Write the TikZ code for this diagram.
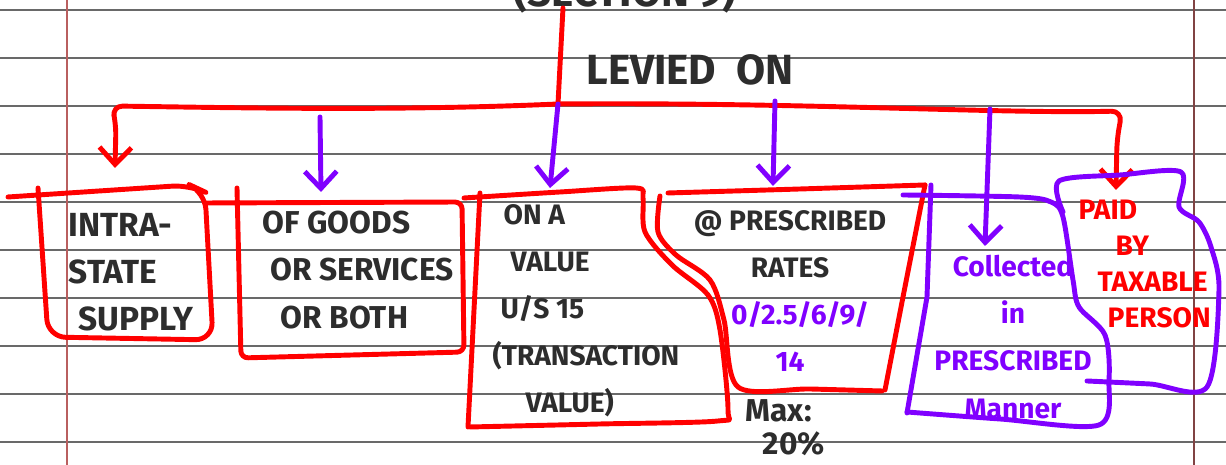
\documentclass[tikz,border=0pt]{standalone}
\usepackage{fontspec}
\usepackage{xcolor}
\usetikzlibrary{arrows.meta}
\newfontfamily\handfont{Fira Sans}
\definecolor{cRule}{RGB}{105,105,105}
\definecolor{cMargin}{RGB}{185,95,95}
\definecolor{cInk}{RGB}{45,45,45}
\definecolor{cRed}{RGB}{255,0,0}
\definecolor{cViolet}{RGB}{128,0,255}
\tikzset{
	rule/.style={draw=cRule, line width=0.55pt},
	margin/.style={draw=cMargin, line width=0.4pt},
	pen/.style={line width=1.4pt, line cap=round, line join=round},
	redpen/.style={pen, draw=cRed},
	violetpen/.style={pen, draw=cViolet},
	tipped/.style={-{Straight Barb[length=1.7mm, width=3.2mm]}},
	% handwritten text
	hand/.style={font=\handfont\bfseries\fontsize{8}{13.4}\selectfont, text=cInk, align=center, inner sep=0pt},
	bighand/.style={hand, font=\handfont\bfseries\fontsize{9}{13.4}\selectfont},
	headhand/.style={hand, font=\handfont\bfseries\fontsize{12}{14}\selectfont},
	smallhand/.style={hand, font=\handfont\bfseries\fontsize{8}{10.2}\selectfont},
}

\begin{document}
\begin{tikzpicture}[x=0.01cm, y=-0.01cm]
	\clip (0,0) rectangle (1226,465);
	\fill[white] (0,0) rectangle (1226,465);

	% ruled paper
	\foreach \y in {10,58,...,442}
		\draw[rule] (0,\y) -- (1226,\y);
	\draw[margin] (67,0) -- (67,465);
	\draw[margin, draw=cMargin!70!black] (1194,0) -- (1194,465);

	% headings
	\node[headhand] (section) at (625,-8) {(SECTION 9)};
	\node[headhand] (levied) at (690,70) {LEVIED\ \ ON};

	% branch points
	\coordinate (stem) at (563,8);
	\coordinate (hub) at (558,104);
	\coordinate (barW) at (112,106);
	\coordinate (barE) at (1122,111);
	\coordinate (dropB) at (320,117);
	\coordinate (dropD) at (775,101);
	\coordinate (dropE) at (990,109);
	\coordinate (tipA) at (115,168);
	\coordinate (tipB) at (321,192);
	\coordinate (tipC) at (550,188);
	\coordinate (tipD) at (773,186);
	\coordinate (tipE) at (985,246);
	\coordinate (tipF) at (1116,190);

	\draw[redpen] (stem) -- (hub);
	\draw[redpen, tipped, rounded corners=3pt] (hub) .. controls (400,111) and (250,108) .. (barW) -- (116,125) -- (tipA);
	\draw[redpen, tipped, rounded corners=3pt] (hub) .. controls (800,102) and (1000,114) .. (barE) -- (1117,140) -- (tipF);
	\draw[violetpen, tipped] (dropB) -- (tipB);
	\draw[violetpen, tipped] (hub) -- (tipC);
	\draw[violetpen, tipped] (dropD) -- (tipD);
	\draw[violetpen, tipped] (dropE) -- (tipE);

	% boxes
	\draw[redpen, rounded corners=5pt] (8,197) -- (190,185) -- (205,192) -- (213,340) -- (48,337) -- (38,188);
	\draw[redpen, rounded corners=2pt] (237,188) -- (241,358) -- (464,352) -- (462,202) -- (207,203);
	\draw[redpen] (480,193) -- (468,427);
	\draw[redpen] plot[smooth, tension=0.5] coordinates {(464,198) (560,192) (636,188) (643,198) (645,232) (672,265) (708,295) (720,330) (728,410) (718,421) (600,424) (470,427)};
	\draw[redpen] plot[smooth, tension=0.5] coordinates {(668,193) (800,189) (925,185)};
	\draw[redpen] plot[smooth, tension=0.5] coordinates {(660,196) (658,232) (676,255) (710,280) (724,320) (738,387) (810,389) (882,391)};
	\draw[redpen] (925,185) -- (903,297) -- (885,390);
	\draw[violetpen] plot[smooth, tension=0.5] coordinates {(903,195) (1019,197) (1051,202) (1063,217) (1073,280) (1079,307) (1105,335) (1109,380) (1099,425) (1000,419) (907,412)};
	\draw[violetpen] (931,185) -- (927,297) -- (907,413);
	\draw[violetpen] plot[smooth, tension=0.5] coordinates {(1063,212) (1059,181) (1120,175) (1181,172) (1179,207) (1199,222) (1211,247) (1219,290) (1207,387) (1150,384) (1087,381)};

	% box texts
	\node[bighand, font=\handfont\bfseries\fontsize{9.5}{13.4}\selectfont, align=left, anchor=west] (supply) at (68,272) {INTRA-\\STATE\\\hspace*{1mm}SUPPLY};
	\node[bighand, align=left, anchor=west] (goods) at (262,270) {OF GOODS\\\hspace*{0.8mm}OR SERVICES\\\hspace*{1.8mm}OR BOTH};
	\node[hand, align=left, anchor=west] (value) at (492,311) {\hspace*{1.1mm}ON A\\\hspace*{1.8mm}VALUE\\\hspace*{0.8mm}U/S 15\\(TRANSACTION\\\hspace*{3.3mm}VALUE)};
	\node[hand] (rates) at (790,291) {@ PRESCRIBED\\RATES\\\hspace*{2mm}\textcolor{cViolet}{0/2.5/6/9/}\\\textcolor{cViolet}{14}};
	\node[smallhand, font=\handfont\bfseries\fontsize{9}{9.4}\selectfont, align=left, anchor=west] (cap) at (745,428) {Max:\\\hspace*{1.7mm}20\%};
	\node[hand, text=cViolet] (collected) at (1013,337) {Collected\\in\\PRESCRIBED\\Manner};
	\node[smallhand, text=cRed, align=left, anchor=west] (paid) at (1078,264) {PAID\\\hspace*{3.7mm}BY\\\hspace*{1.9mm}TAXABLE\\\hspace*{2.9mm}PERSON};
\end{tikzpicture}
\end{document}
